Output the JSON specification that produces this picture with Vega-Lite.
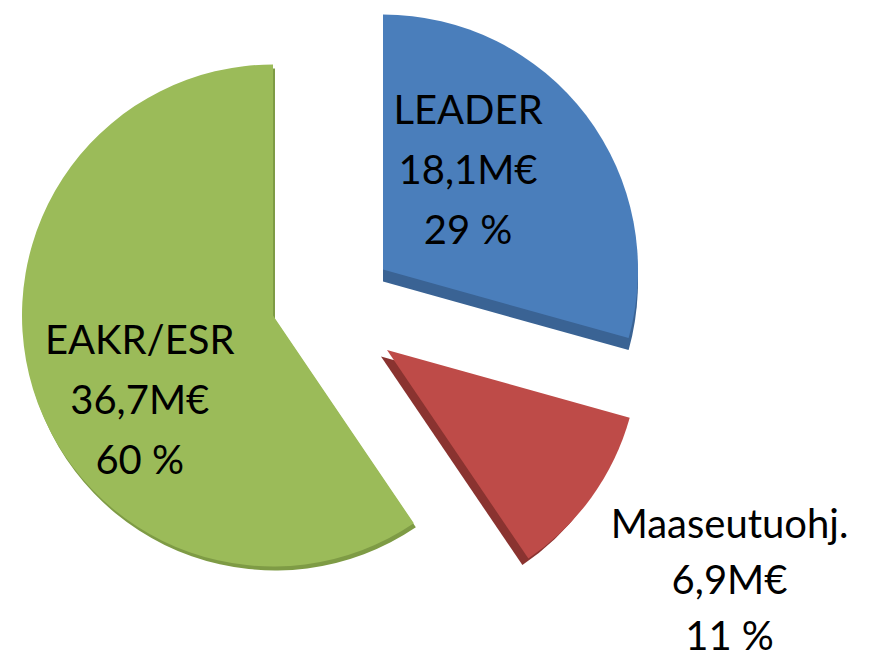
{
  "$schema": "https://vega.github.io/schema/vega-lite/v6.json",
  "width": 870,
  "height": 653,
  "autosize": {"type": "fit", "contains": "padding"},
  "padding": 0,
  "background": "white",
  "view": {"stroke": null},
  "data": {
    "values": [
      {"name": "LEADER", "amount": 18.1, "label": "LEADER\n18,1M€\n29 %", "order": 1},
      {"name": "Maaseutuohj.", "amount": 6.9, "label": "Maaseutuohj.\n6,9M€\n11 %", "order": 2},
      {"name": "EAKR/ESR", "amount": 36.7, "label": "EAKR/ESR\n36,7M€\n60 %", "order": 3}
    ]
  },
  "transform": [
    {"stack": "amount", "groupby": [], "sort": [{"field": "order"}], "as": ["v0", "v1"]},
    {"calculate": "(datum.v0 + datum.v1) / 2", "as": "mid"}
  ],
  "layer": [
    {
      "transform": [{"filter": "datum.name === 'EAKR/ESR'"}],
      "mark": {"type": "arc", "radius": 251, "xOffset": -160, "yOffset": -2, "color": "#7E9B45"},
      "encoding": {
        "theta": {"field": "v0", "type": "quantitative", "scale": {"domain": [0, 61.7]}},
        "theta2": {"field": "v1"}
      }
    },
    {
      "transform": [{"filter": "datum.name === 'EAKR/ESR'"}],
      "mark": {"type": "arc", "radius": 251, "xOffset": -162, "yOffset": -6, "color": "#9BBB59"},
      "encoding": {
        "theta": {"field": "v0", "type": "quantitative", "scale": {"domain": [0, 61.7]}},
        "theta2": {"field": "v1"}
      }
    },
    {
      "transform": [{"filter": "datum.name === 'LEADER'"}],
      "mark": {"type": "arc", "radius": 255, "xOffset": -52, "yOffset": -40, "color": "#3A6394"},
      "encoding": {
        "theta": {"field": "v0", "type": "quantitative", "scale": {"domain": [0, 61.7]}},
        "theta2": {"field": "v1"}
      }
    },
    {
      "transform": [{"filter": "datum.name === 'LEADER'"}],
      "mark": {"type": "arc", "radius": 255, "xOffset": -52, "yOffset": -52, "color": "#4A7EBB"},
      "encoding": {
        "theta": {"field": "v0", "type": "quantitative", "scale": {"domain": [0, 61.7]}},
        "theta2": {"field": "v1"}
      }
    },
    {
      "transform": [{"filter": "datum.name === 'Maaseutuohj.'"}],
      "mark": {"type": "arc", "radius": 252, "xOffset": -54, "yOffset": 35, "color": "#8A3330"},
      "encoding": {
        "theta": {"field": "v0", "type": "quantitative", "scale": {"domain": [0, 61.7]}},
        "theta2": {"field": "v1"}
      }
    },
    {
      "transform": [{"filter": "datum.name === 'Maaseutuohj.'"}],
      "mark": {"type": "arc", "radius": 252, "xOffset": -48, "yOffset": 28.5, "color": "#BE4B48"},
      "encoding": {
        "theta": {"field": "v0", "type": "quantitative", "scale": {"domain": [0, 61.7]}},
        "theta2": {"field": "v1"}
      }
    },
    {
      "transform": [{"filter": "datum.name === 'LEADER'"}],
      "mark": {"type": "text", "radius": 130, "xOffset": -52, "yOffset": -40.5, "dx": -18.5, "dy": -90, "font": "Lato", "fontSize": 40, "lineHeight": 60, "align": "center", "baseline": "middle", "lineBreak": "\n", "color": "black"},
      "encoding": {
        "theta": {"field": "mid", "type": "quantitative", "scale": {"domain": [0, 61.7]}},
        "text": {"field": "label"}
      }
    },
    {
      "transform": [{"filter": "datum.name === 'Maaseutuohj.'"}],
      "mark": {"type": "text", "radius": 130, "xOffset": -48, "yOffset": 28.5, "dx": 237, "dy": 100, "font": "Lato", "fontSize": 40, "lineHeight": 56, "align": "center", "baseline": "middle", "lineBreak": "\n", "color": "black"},
      "encoding": {
        "theta": {"field": "mid", "type": "quantitative", "scale": {"domain": [0, 61.7]}},
        "text": {"field": "label"}
      }
    },
    {
      "transform": [{"filter": "datum.name === 'EAKR/ESR'"}],
      "mark": {"type": "text", "radius": 130, "xOffset": -162, "yOffset": 11, "dx": -9, "dy": -29, "font": "Lato", "fontSize": 40, "lineHeight": 60, "align": "center", "baseline": "middle", "lineBreak": "\n", "color": "black"},
      "encoding": {
        "theta": {"field": "mid", "type": "quantitative", "scale": {"domain": [0, 61.7]}},
        "text": {"field": "label"}
      }
    }
  ]
}
